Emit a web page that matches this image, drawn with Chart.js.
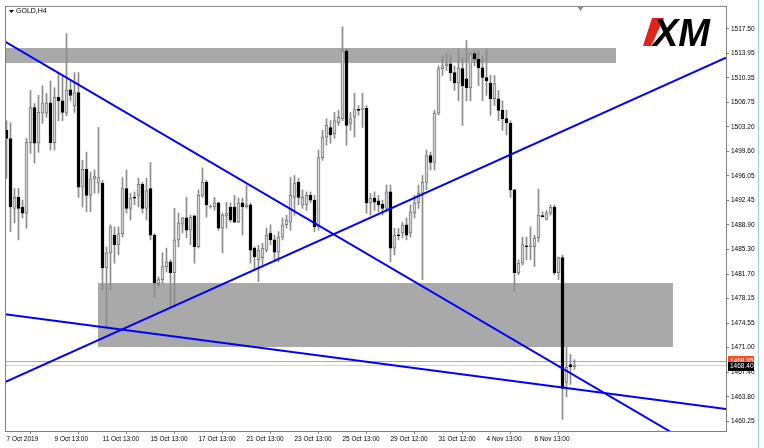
<!DOCTYPE html>
<html>
<head>
<meta charset="utf-8">
<script src="https://cdn.jsdelivr.net/npm/chart.js@4.4.0/dist/chart.umd.min.js"></script>
<style>
  html, body { margin: 0; padding: 0; background: #fff; }
  canvas { display: block; }
</style>
</head>
<body>
<canvas id="chartGold" width="764" height="448"></canvas>
<script>
// GOLD H4 - velas (indice de barra 0..142)
const opens = [1502.7,1501.5,1491.3,1492.9,1491.5,1490.6,1500.9,1506.0,1500.8,1505.2,
  1505.2,1506.7,1500.9,1507.5,1507.0,1505.2,1508.6,1506.3,1508.2,1494.4,
  1497.0,1493.2,1495.6,1495.0,1495.0,1482.6,1484.8,1487.4,1486.0,1487.6,
  1494.2,1491.3,1492.9,1493.2,1494.8,1491.3,1494.2,1487.4,1480.3,1480.9,
  1482.8,1483.5,1481.9,1486.7,1489.0,1489.9,1488.1,1490.2,1485.7,1493.2,
  1495.1,1491.5,1491.5,1492.1,1488.4,1490.2,1491.5,1491.5,1489.3,1492.1,
  1491.5,1491.8,1485.5,1483.8,1484.1,1485.2,1487.7,1486.7,1484.9,1487.1,
  1488.9,1489.3,1492.9,1495.1,1491.8,1491.8,1493.2,1492.5,1488.6,1498.7,
  1501.7,1503.1,1502.2,1503.8,1504.4,1514.3,1503.7,1504.6,1505.7,1505.7,
  1505.9,1492.1,1492.8,1492.4,1491.9,1491.3,1493.7,1485.5,1487.4,1487.7,
  1488.9,1487.7,1490.6,1492.1,1493.5,1495.1,1499.0,1498.0,1505.2,1511.7,
  1512.1,1512.4,1511.1,1509.6,1511.7,1510.2,1508.9,1513.9,1513.1,1511.8,
  1510.4,1509.6,1507.3,1507.3,1505.6,1504.4,1503.7,1494.0,1481.9,1483.3,
  1485.8,1485.7,1485.7,1487.0,1490.2,1489.7,1490.6,1491.5,1481.9,1484.1,
  1465.9,1468.5,1468.2];
const highs = [1504.1,1503.8,1494.2,1494.2,1492.5,1501.5,1508.5,1506.6,1507.8,1509.2,
  1508.1,1509.9,1508.9,1511.1,1510.7,1516.8,1509.9,1511.1,1511.1,1498.3,
  1499.5,1496.6,1496.9,1503.1,1495.4,1485.7,1488.9,1488.6,1488.6,1495.8,
  1496.9,1493.5,1493.7,1495.7,1495.1,1495.7,1498.0,1487.6,1481.3,1484.8,
  1485.5,1483.8,1491.3,1490.6,1490.0,1492.9,1490.3,1490.3,1494.0,1497.2,
  1495.4,1491.8,1492.9,1492.2,1490.6,1492.2,1492.1,1493.2,1492.8,1492.8,
  1494.7,1492.1,1485.7,1485.9,1486.2,1488.4,1488.9,1487.4,1487.9,1489.9,
  1490.3,1495.8,1496.1,1495.7,1494.0,1493.7,1493.7,1493.2,1499.8,1502.7,
  1504.4,1504.1,1505.3,1505.6,1517.8,1514.6,1505.3,1508.1,1506.3,1508.1,
  1506.3,1493.5,1493.7,1493.2,1492.5,1494.7,1494.7,1488.4,1488.4,1489.3,
  1489.9,1491.8,1493.2,1494.7,1496.1,1499.8,1499.5,1505.6,1512.1,1513.6,
  1513.9,1513.6,1512.1,1514.6,1513.3,1515.8,1514.0,1514.3,1514.3,1513.5,
  1514.6,1510.7,1510.7,1508.5,1507.0,1505.6,1504.1,1494.1,1483.8,1487.1,
  1487.1,1488.6,1487.4,1494.1,1490.8,1491.0,1491.8,1491.8,1484.2,1484.5,
  1471.0,1470.0,1469.2];
const lows = [1495.7,1487.9,1489.2,1486.7,1489.9,1488.4,1499.3,1497.9,1499.5,1503.7,
  1504.6,1499.8,1499.8,1504.1,1504.1,1504.8,1507.0,1505.3,1492.9,1491.5,
  1490.8,1490.8,1493.5,1493.5,1479.4,1473.9,1479.4,1483.3,1484.5,1487.1,
  1490.6,1489.6,1491.8,1491.5,1490.6,1489.6,1486.7,1478.4,1479.9,1480.4,
  1482.0,1476.9,1476.8,1485.7,1487.7,1487.0,1486.0,1483.3,1485.5,1492.9,
  1490.0,1491.3,1491.0,1488.1,1484.8,1488.4,1489.3,1489.2,1489.2,1487.4,
  1491.3,1483.3,1482.3,1480.6,1483.1,1484.9,1486.0,1483.5,1483.5,1486.7,
  1488.4,1488.1,1490.3,1491.8,1491.3,1491.0,1492.1,1487.9,1488.1,1498.3,
  1500.5,1500.8,1501.5,1503.4,1504.1,1500.5,1502.7,1501.7,1504.9,1503.1,
  1490.6,1490.3,1491.0,1490.8,1490.3,1490.8,1483.5,1484.5,1486.7,1487.0,
  1486.7,1487.1,1489.9,1491.3,1480.9,1494.0,1496.9,1496.9,1504.9,1510.7,
  1511.4,1509.9,1508.5,1507.0,1503.4,1507.0,1507.0,1512.1,1509.2,1507.0,
  1507.8,1504.9,1506.3,1504.1,1502.7,1502.0,1492.9,1479.1,1481.6,1483.0,
  1483.8,1483.8,1482.8,1486.4,1490.0,1489.6,1490.3,1481.6,1480.9,1460.5,
  1463.8,1465.6,1467.8];
const closes = [1501.5,1491.5,1492.9,1491.3,1490.6,1500.9,1506.0,1500.8,1505.3,1506.7,
  1506.7,1500.9,1507.5,1507.0,1505.3,1508.6,1507.8,1508.2,1494.4,1497.0,
  1493.2,1495.6,1496.0,1495.8,1482.6,1484.8,1488.6,1486.0,1487.6,1494.2,
  1491.3,1492.8,1492.8,1494.8,1491.3,1493.9,1487.4,1480.4,1480.9,1482.8,
  1483.5,1481.9,1486.7,1489.2,1489.9,1488.1,1490.0,1485.7,1493.2,1495.1,
  1491.8,1491.6,1492.1,1488.4,1490.3,1490.6,1489.6,1489.3,1492.1,1491.5,
  1491.8,1485.2,1484.2,1485.2,1485.5,1487.4,1486.7,1484.9,1487.1,1488.9,
  1489.6,1493.2,1495.0,1492.9,1492.9,1493.2,1492.5,1488.6,1498.7,1501.7,
  1503.4,1502.0,1504.1,1504.6,1514.3,1503.4,1504.4,1505.7,1505.6,1505.8,
  1492.1,1492.8,1492.2,1491.8,1491.3,1493.7,1485.5,1487.4,1487.3,1488.9,
  1487.4,1490.8,1492.1,1493.5,1495.1,1499.0,1498.0,1505.2,1511.7,1512.1,
  1512.4,1511.1,1509.6,1511.8,1509.2,1508.9,1513.9,1513.1,1511.8,1510.4,
  1509.9,1507.3,1509.5,1505.6,1504.4,1503.8,1494.0,1481.9,1483.3,1486.0,
  1485.7,1485.8,1487.0,1490.3,1490.1,1490.6,1491.5,1481.9,1484.1,1465.0,
  1468.1,1468.2,1468.4];

// Eje de tiempo (una etiqueta cada 12 barras)
const xTickIdx = [0, 12, 24, 36, 48, 60, 72, 84, 96, 108, 120, 132];
const xLabels = ["7 Oct 2019","9 Oct 13:00","11 Oct 13:00","15 Oct 13:00","17 Oct 13:00","21 Oct 13:00",
  "23 Oct 13:00","25 Oct 13:00","29 Oct 12:00","31 Oct 12:00","4 Nov 13:00","6 Nov 13:00"];

// Eje de precios
const yTicks = [1517.50,1513.95,1510.35,1506.75,1503.20,1499.60,1496.05,1492.45,1488.90,
  1485.30,1481.70,1478.15,1474.55,1471.00,1467.40,1463.80,1460.25];

// Lineas de tendencia: [indice inicio, precio inicio, indice fin, precio fin]
const trendA = [-0.375, 1515.65, 165.9, 1458.72];
const trendB = [-0.375, 1465.93, 179.875, 1513.28];
const trendC = [-0.375, 1475.84, 179.875, 1462.00];

// Zonas (rectangulos grises)
const zoneFrom = [-10, 22.8];
const zoneTo = [152.4, 166.55];
const zoneHigh = [1514.66, 1480.46];
const zoneLow = [1512.45, 1471.08];

// Precios actuales
const askPrice = 1468.95;
const bidPrice = 1468.40;

const FONT = "'Liberation Sans', Arial, sans-serif";

(() => {
  const idx = opens.map((_, i) => i);
  const isBull = i => closes[i] >= opens[i];

  const wickData = idx.map(i => ({ x: i, y: [lows[i], highs[i]] }));
  const bodyData = idx.map(i => ({ x: i, y: [Math.min(opens[i], closes[i]), Math.max(opens[i], closes[i])] }));

  const toLine = t => [{ x: t[0], y: t[1] }, { x: t[2], y: t[3] }];
  const lineDs = t => ({
    type: "line",
    data: toLine(t),
    borderColor: "#0000ff",
    borderWidth: 2,
    pointRadius: 0,
    fill: false,
    clip: 0,
    order: 0
  });

  const backgroundPlugin = {
    id: "mtBackground",
    beforeDatasetsDraw(chart) {
      const { ctx, chartArea: a, scales: { x, y } } = chart;
      ctx.save();
      ctx.beginPath();
      ctx.rect(a.left, a.top, a.right - a.left, a.bottom - a.top);
      ctx.clip();
      // zonas
      ctx.fillStyle = "#a9a9a9";
      for (let k = 0; k < zoneFrom.length; k++) {
        const x0 = Math.round(x.getPixelForValue(zoneFrom[k]));
        const x1 = Math.round(x.getPixelForValue(zoneTo[k]));
        const y0 = Math.round(y.getPixelForValue(zoneHigh[k]));
        const y1 = Math.round(y.getPixelForValue(zoneLow[k]));
        ctx.fillRect(x0, y0, x1 - x0, y1 - y0);
      }
      // lineas bid / ask
      const ya = Math.round(y.getPixelForValue(askPrice)) + 0.5;
      const yb = Math.round(y.getPixelForValue(bidPrice)) + 0.5;
      ctx.lineWidth = 1;
      ctx.strokeStyle = "#d3d3d3";
      ctx.beginPath(); ctx.moveTo(a.left, yb); ctx.lineTo(a.right, yb); ctx.stroke();
      ctx.strokeStyle = "#ff8c69";
      ctx.beginPath(); ctx.moveTo(a.left, ya); ctx.lineTo(a.right, ya); ctx.stroke();
      ctx.restore();
    },
    afterDraw(chart) {
      const { ctx, chartArea: a, scales: { y } } = chart;
      ctx.save();
      // marco del grafico
      ctx.strokeStyle = "#7f7f7f";
      ctx.lineWidth = 1;
      ctx.strokeRect(a.left + 0.5, a.top + 0.5, a.right - a.left, a.bottom - a.top);

      // borde de la ventana a la derecha
      ctx.strokeStyle = "#a8c6e6";
      ctx.beginPath(); ctx.moveTo(758.5, 0); ctx.lineTo(758.5, 448); ctx.stroke();

      // titulo
      ctx.fillStyle = "#000";
      ctx.beginPath();
      ctx.moveTo(9, 10); ctx.lineTo(14, 10); ctx.lineTo(11.5, 13); ctx.closePath(); ctx.fill();
      ctx.font = "7px " + FONT;
      ctx.textBaseline = "middle";
      ctx.fillText("GOLD,H4", 16, 11.5);

      // marca de desplazamiento
      ctx.fillStyle = "#8a8a8a";
      ctx.beginPath();
      ctx.moveTo(577, 6); ctx.lineTo(584, 6); ctx.lineTo(580.5, 11); ctx.closePath(); ctx.fill();

      // logo XM
      ctx.fillStyle = "#e2231a";
      ctx.beginPath();
      ctx.moveTo(652, 18); ctx.lineTo(664, 18); ctx.lineTo(651, 46); ctx.lineTo(643, 46); ctx.closePath(); ctx.fill();
      ctx.fillStyle = "#000";
      ctx.font = "italic bold 38px " + FONT;
      ctx.textBaseline = "alphabetic";
      ctx.fillText("XM", 653, 46);

      // etiquetas de precio
      const ya = Math.round(y.getPixelForValue(askPrice));
      const yb = Math.round(y.getPixelForValue(bidPrice));
      ctx.font = "6.5px " + FONT;
      ctx.textBaseline = "middle";
      ctx.fillStyle = "#ff4a1c";
      ctx.fillRect(728, ya - 5, 26, 9);
      ctx.fillStyle = "#fff";
      ctx.fillText(askPrice.toFixed(2), 730, ya);
      ctx.fillStyle = "#000";
      ctx.fillRect(728, yb - 3, 26, 9);
      ctx.fillStyle = "#fff";
      ctx.fillText(bidPrice.toFixed(2), 730, yb + 1.5);
      ctx.restore();
    }
  };

  const el = document.getElementById("chartGold");
  new Chart(el, {
    type: "bar",
    data: {
      datasets: [
        lineDs(trendA),
        lineDs(trendB),
        lineDs(trendC),
        {
          data: bodyData,
          backgroundColor: idx.map(i => isBull(i) ? "#d6d6d6" : "#000000"),
          borderColor: idx.map(i => isBull(i) ? "#7a7a7a" : "#000000"),
          borderWidth: 1,
          borderSkipped: false,
          barThickness: 3,
          minBarLength: 1,
          grouped: false,
          order: 1
        },
        {
          data: wickData,
          backgroundColor: "#8c8c8c",
          borderWidth: 0,
          barThickness: 1,
          grouped: false,
          order: 2
        }
      ]
    },
    options: {
      responsive: false,
      animation: false,
      events: [],
      layout: { padding: { left: 5, top: 5, right: 0, bottom: 0 } },
      plugins: { legend: { display: false }, tooltip: { enabled: false } },
      scales: {
        x: {
          type: "linear",
          min: -0.375,
          max: 179.875,
          offset: false,
          afterBuildTicks: s => { s.ticks = xTickIdx.map(v => ({ value: v })); },
          afterFit: s => { s.height = 17; },
          border: { display: false },
          grid: { display: true, drawOnChartArea: false, drawTicks: true, tickLength: 3, color: "#7f7f7f" },
          ticks: {
            autoSkip: false, maxRotation: 0, align: "start", padding: 1,
            color: "#000", font: { family: FONT, size: 6.5 },
            callback: (v, i) => xLabels[i]
          }
        },
        y: {
          position: "right",
          min: 1458.8,
          max: 1520.85,
          afterBuildTicks: s => { s.ticks = yTicks.map(v => ({ value: v })); },
          afterFit: s => { s.width = 38; },
          border: { display: false },
          grid: { display: true, drawOnChartArea: false, drawTicks: true, tickLength: 3, color: "#7f7f7f" },
          ticks: {
            autoSkip: false, padding: 2,
            color: "#000", font: { family: FONT, size: 6.5 },
            callback: v => Number(v).toFixed(2)
          }
        }
      }
    },
    plugins: [backgroundPlugin]
  });
})();
</script>
</body>
</html>
